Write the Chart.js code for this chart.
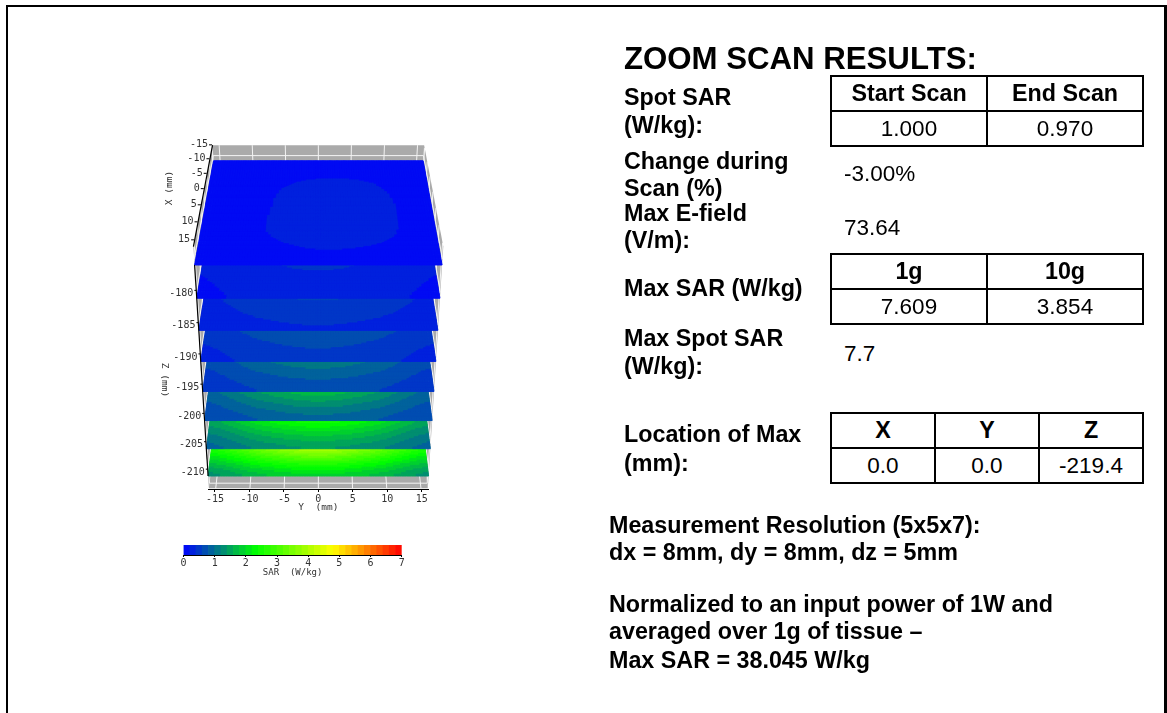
<!DOCTYPE html>
<html><head><meta charset="utf-8">
<script src="https://cdn.jsdelivr.net/npm/chart.js@4"></script>
<style>
html,body{margin:0;padding:0;background:#fff;width:1167px;height:713px;overflow:hidden;font-family:"Liberation Sans",Arial,sans-serif;color:#000}
#frame{position:absolute;left:6px;top:5px;width:1156px;height:708px;border:solid #000;border-width:2px 3px 0 2px;box-sizing:content-box}
canvas{position:absolute}
.t{position:absolute;white-space:nowrap;transform:translateY(-50%);line-height:1;font-size:22.5px;margin-top:1px}
.b{font-weight:bold;font-size:23.3px}
.h{font-weight:bold;font-size:31.2px}
table{position:absolute;border-collapse:collapse;table-layout:fixed;font-size:22.5px}
td{border:2.5px solid #000;padding:0;text-align:center;height:33px;box-sizing:content-box}
tr.hd td{font-weight:bold;font-size:23.3px}
</style></head><body>
<div id="frame"></div>
<canvas id="plot" width="640" height="713" style="left:0;top:0"></canvas>
<canvas id="bar" width="300" height="60" style="left:150px;top:530px"></canvas>
<div id="text"></div>
<script>
// ---------- data ----------
const scanY = [-16,-8,0,8,16];           // columns of each SAR grid (mm)
const scanX = [-16,-8,0,8,16];           // rows of each SAR grid (mm)
const scanZ = [-210,-205,-200,-195,-190,-185,-180,-175]; // planes
const sarZ175 = [[.07,.10,.13,.12,.08],[.10,.17,.215,.20,.12],[.12,.185,.27,.24,.13],[.12,.185,.26,.23,.12],[.07,.10,.14,.12,.07]];
const sarZ180 = [[.16,.24,.27,.24,.16],[.22,.36,.42,.36,.22],[.30,.48,.58,.48,.30],[.22,.36,.42,.36,.22],[.16,.24,.27,.24,.16]];
const sarZ185 = [[.24,.34,.38,.34,.24],[.36,.55,.62,.55,.36],[.50,.75,.90,.75,.50],[.36,.55,.62,.55,.36],[.24,.34,.38,.34,.24]];
const sarZ190 = [[.33,.45,.50,.45,.33],[.50,.72,.85,.72,.50],[.70,1.05,1.25,1.05,.70],[.50,.72,.85,.72,.50],[.33,.45,.50,.45,.33]];
const sarZ195 = [[.45,.60,.65,.60,.45],[.70,1.05,1.25,1.05,.70],[1.0,1.55,1.85,1.55,1.0],[.70,1.05,1.25,1.05,.70],[.45,.60,.65,.60,.45]];
const sarZ200 = [[.60,.80,.90,.80,.60],[1.05,1.65,2.0,1.65,1.05],[1.5,2.4,2.9,2.4,1.5],[1.05,1.65,2.0,1.65,1.05],[.60,.80,.90,.80,.60]];
const sarZ205 = [[.90,1.25,1.40,1.25,.90],[1.8,2.6,3.0,2.6,1.8],[2.5,3.7,4.4,3.7,2.5],[1.8,2.6,3.0,2.6,1.8],[.90,1.25,1.40,1.25,.90]];
const sarZ210 = [[1.3,1.75,1.95,1.75,1.3],[3.2,4.3,5.0,4.3,3.2],[4.0,5.6,6.5,5.6,4.0],[3.2,4.3,5.0,4.3,3.2],[1.3,1.75,1.95,1.75,1.3]];
const sarGrids = [sarZ210,sarZ205,sarZ200,sarZ195,sarZ190,sarZ185,sarZ180,sarZ175];
const tickYmm = [-15,-10,-5,0,5,10,15];
const tickXmm = [-15,-10,-5,0,5,10,15];
const tickZmm = [-180,-185,-190,-195,-200,-205,-210];
const gridZmm = [-175,-180,-185,-190,-195,-200,-205,-210];
const barLevels = [0.1,0.3,0.5,0.7,0.9,1.1,1.3,1.5,1.7,1.9,2.1,2.3,2.5,2.7,2.9,3.1,3.3,3.5,3.7,3.9,4.1,4.3,4.5,4.7,4.9,5.1,5.3,5.5,5.7,5.9,6.1,6.3,6.5,6.7,6.9];
const barTicks = [0,1,2,3,4,5,6,7];
const colorStops = [[0,[0,0,255]],[2.33,[0,255,0]],[4.8,[255,255,0]],[7,[255,0,0]]];

const spotHead = ['Start Scan','End Scan'], spotVals = ['1.000','0.970'];
const massHead = ['1g','10g'], massVals = ['7.609','3.854'];
const locHead = ['X','Y','Z'], locVals = ['0.0','0.0','-219.4'];

// ---------- text panel ----------
const panel = document.getElementById('text');
function put(cls,x,y,s){const d=document.createElement('div');d.className='t '+cls;d.style.left=x+'px';d.style.top=y+'px';d.textContent=s;panel.appendChild(d);}
function tbl(x,y,widths,head,vals){
  const t=document.createElement('table');t.style.left=x+'px';t.style.top=y+'px';
  t.style.width=widths.reduce((a,b)=>a+b,0)+'px';
  const cg=document.createElement('colgroup');widths.forEach(w=>{const c=document.createElement('col');c.style.width=w+'px';cg.appendChild(c);});t.appendChild(cg);
  [head,vals].forEach((r,i)=>{const tr=document.createElement('tr');if(!i)tr.className='hd';r.forEach(s=>{const td=document.createElement('td');td.textContent=s;tr.appendChild(td);});t.appendChild(tr);});
  panel.appendChild(t);
}
put('h',624,58,'ZOOM SCAN RESULTS:');
[[97,'Spot SAR'],[125,'(W/kg):'],[161,'Change during'],[188,'Scan (%)'],[213,'Max E-field'],[240,'(V/m):'],[288,'Max SAR (W/kg)'],[338,'Max Spot SAR'],[366,'(W/kg):'],[434,'Location of Max'],[463,'(mm):']].forEach(a=>put('b',624,a[0],a[1]));
[[173,'-3.00%'],[227,'73.64'],[353,'7.7']].forEach(a=>put('',844,a[0],a[1]));
[[525,'Measurement Resolution (5x5x7):'],[552,'dx = 8mm, dy = 8mm, dz = 5mm'],[604,'Normalized to an input power of 1W and'],[631,'averaged over 1g of tissue \u2013'],[660,'Max SAR = 38.045 W/kg']].forEach(a=>put('b',609,a[0],a[1]));
tbl(830,75,[156,156],spotHead,spotVals);
tbl(830,253,[156,156],massHead,massVals);
tbl(830,412,[104,104,104],locHead,locVals);

// ---------- colour + interpolation ----------
function mapColor(v){
  for(let i=1;i<colorStops.length;i++){
    if(v<=colorStops[i][0]){
      const a=colorStops[i-1],b=colorStops[i],f=(v-a[0])/(b[0]-a[0]);
      return 'rgb('+a[1].map((c,k)=>Math.round(c+(b[1][k]-c)*f)).join(',')+')';
    }
  }
  return 'rgb(255,0,0)';
}
function cr(p0,p1,p2,p3,t){return .5*((2*p1)+(-p0+p2)*t+(2*p0-5*p1+4*p2-p3)*t*t+(-p0+3*p1-3*p2+p3)*t*t*t);}
function sample(g,X,Y){
  const fx=(X+16)/8,fy=(Y+16)/8;
  const ix=Math.min(3,Math.floor(fx)),iy=Math.min(3,Math.floor(fy));
  const tx=fx-ix,ty=fy-iy,c=i=>Math.max(0,Math.min(4,i));
  const col=[];
  for(let j=-1;j<=2;j++){
    const r=g[c(ix+j)];
    col.push(cr(r[c(iy-1)],r[c(iy)],r[c(iy+1)],r[c(iy+2)],ty));
  }
  return cr(col[0],col[1],col[2],col[3],tx);
}
function levelOf(v){return Math.floor(Math.max(0,v)/0.2)*0.2+0.1;}

// ---------- perspective through the chart scales ----------
const D=321,E=177,horizonZ=-44;
function projector(chart){
  const xs=chart.scales.x,ys=chart.scales.y,cx=xs.getPixelForValue(0),yh=ys.getPixelForValue(horizonZ);
  return (Y,X,z)=>{
    const t=z+210,s=D/(D-t),p=E/(E+16-X);
    return [cx+(xs.getPixelForValue(Y*s)-cx)*p, yh+(ys.getPixelForValue(-210+t*s)-yh)*p];
  };
}
const Ztop=-172.3,Zbot=-212.3,ZS=0.9;
function poly(ctx,pts,fill){ctx.beginPath();pts.forEach((p,i)=>i?ctx.lineTo(p[0],p[1]):ctx.moveTo(p[0],p[1]));ctx.closePath();ctx.fillStyle=fill;ctx.fill();}
function seg(ctx,a,b,col,w){ctx.beginPath();ctx.moveTo(a[0],a[1]);ctx.lineTo(b[0],b[1]);ctx.strokeStyle=col;ctx.lineWidth=w;ctx.stroke();}

const scene={id:'scene',afterDatasetsDraw(chart){
  const ctx=chart.ctx,P=projector(chart),G='#aaaaaa',W='#f4f4f4';
  ctx.save();
  // back wall, side walls, floor
  poly(ctx,[P(-16,-16,Ztop),P(16,-16,Ztop),P(16,-16,Zbot),P(-16,-16,Zbot)],G);
  poly(ctx,[P(-16,-16,Ztop),P(-16,16,Ztop),P(-16,16,Zbot),P(-16,-16,Zbot)],G);
  poly(ctx,[P(16,-16,Ztop),P(16,16,Ztop),P(16,16,Zbot),P(16,-16,Zbot)],G);
  poly(ctx,[P(-16,-16,Zbot),P(16,-16,Zbot),P(16,16,Zbot),P(-16,16,Zbot)],G);
  tickYmm.forEach(v=>{
    seg(ctx,P(v,-16,Ztop),P(v,-16,Zbot),W,1);
    seg(ctx,P(v,-16,Zbot),P(v,16,Zbot),W,1);
  });
  tickXmm.forEach(v=>{
    seg(ctx,P(-16,v,Zbot),P(16,v,Zbot),W,1);
    seg(ctx,P(-16,v,Ztop),P(-16,v,Zbot),W,1);
    seg(ctx,P(16,v,Ztop),P(16,v,Zbot),W,1);
  });
  gridZmm.forEach(v=>{
    seg(ctx,P(-16,-16,v+ZS),P(16,-16,v+ZS),W,1);
    seg(ctx,P(-16,-16,v+ZS),P(-16,16,v+ZS),W,1);
    seg(ctx,P(16,-16,v+ZS),P(16,16,v+ZS),W,1);
  });
  // SAR planes, lowest first
  const N=90;
  ctx.lineWidth=1;
  chart.data.datasets.forEach(ds=>{
    const z=ds.planeZ,g=ds.grid;
    for(let i=0;i<N;i++){
      const x0=-16+32*i/N,x1=-16+32*(i+1)/N;
      for(let j=0;j<N;j++){
        const y0=-16+32*j/N,y1=-16+32*(j+1)/N;
        const c=mapColor(levelOf(sample(g,(x0+x1)/2,(y0+y1)/2)));
        const a=P(y0,x0,z),b=P(y1,x0,z),d=P(y1,x1,z),e=P(y0,x1,z);
        ctx.beginPath();ctx.moveTo(a[0],a[1]);ctx.lineTo(b[0],b[1]);ctx.lineTo(d[0],d[1]);ctx.lineTo(e[0],e[1]);ctx.closePath();
        ctx.fillStyle=c;ctx.strokeStyle=c;ctx.fill();ctx.stroke();
      }
    }
  });
  // slanted axes
  const K='#000',F='10px "DejaVu Sans Mono"',TC='#333';
  seg(ctx,P(-16,-16,Ztop),P(-16,16,Ztop),K,1.2);
  seg(ctx,P(-16,16,-175),P(-16,16,Zbot+2.3),K,1.2);
  ctx.font=F;ctx.fillStyle=TC;ctx.textAlign='right';ctx.textBaseline='middle';
  tickXmm.forEach(v=>{
    const p=P(-16,v,Ztop);
    seg(ctx,[p[0]-3,p[1]-3],[p[0],p[1]-3],K,1);
    ctx.fillStyle=TC;ctx.fillText(String(v),p[0]-4,p[1]-3);
  });
  tickZmm.forEach(v=>{
    const p=P(-16,16,v+ZS);
    seg(ctx,[p[0]-2,p[1]-2],[p[0],p[1]-2],K,1);
    ctx.fillStyle=TC;ctx.fillText(String(v),p[0]-3,p[1]+1);
  });
  // rotated axis titles
  ctx.textAlign='center';
  ctx.save();ctx.translate(164,380);ctx.rotate(Math.PI/2);ctx.font='9.5px "DejaVu Sans Mono"';ctx.fillText('Z (mm)',0,0);ctx.restore();
  ctx.save();ctx.translate(170,188);ctx.rotate(-Math.PI/2);ctx.font='9.5px "DejaVu Sans Mono"';ctx.fillText('X (mm)',0,0);ctx.restore();
  ctx.restore();
}};

new Chart(document.getElementById('plot'),{
  type:'scatter',
  data:{datasets:scanZ.map((z,k)=>({
    label:'Z '+z+' mm',planeZ:z,grid:sarGrids[k],showLine:false,pointRadius:0,
    data:scanX.flatMap((X,r)=>scanY.map((Y,c)=>({x:Y,y:z,sar:sarGrids[k][r][c],X})))
  }))},
  options:{
    responsive:false,animation:false,devicePixelRatio:1,
    layout:{padding:{left:208.1,right:211.4,top:100,bottom:198}},
    plugins:{legend:{display:false},tooltip:{enabled:false}},
    scales:{
      x:{type:'linear',min:-16,max:16,
        afterFit(s){s.height=26;},
        afterBuildTicks(s){s.ticks=tickYmm.map(v=>({value:v}));},
        border:{color:'#000',width:1},
        grid:{drawOnChartArea:false,color:'#000',tickLength:3},
        ticks:{color:'#333',font:{family:'"DejaVu Sans Mono"',size:10},padding:1,maxRotation:0,autoSkip:false},
        title:{display:true,text:'Y  (mm)',color:'#333',font:{family:'"DejaVu Sans Mono"',size:9.5},padding:{top:0,bottom:2}}},
      y:{type:'linear',display:false,min:-212.42,max:-140}
    }
  },
  plugins:[scene]
});

new Chart(document.getElementById('bar'),{
  type:'bar',
  data:{datasets:[{label:'SAR (W/kg)',
    data:barLevels.map(v=>({x:v,y:1})),
    backgroundColor:barLevels.map(mapColor),
    barPercentage:1,categoryPercentage:1,borderWidth:0}]},
  options:{
    responsive:false,animation:false,devicePixelRatio:1,
    layout:{padding:{left:33.5,right:48.3,top:15,bottom:12}},
    plugins:{legend:{display:false},tooltip:{enabled:false}},
    scales:{
      x:{type:'linear',min:0,max:7,offset:false,
        afterFit(s){s.height=23;},
        afterBuildTicks(s){s.ticks=barTicks.map(v=>({value:v}));},
        border:{color:'#000',width:1},
        grid:{offset:false,drawOnChartArea:false,color:'#000',tickLength:2},
        ticks:{color:'#333',font:{family:'"DejaVu Sans Mono"',size:10},padding:0,maxRotation:0,autoSkip:false},
        title:{display:true,text:'SAR  (W/kg)',color:'#333',font:{family:'"DejaVu Sans Mono"',size:9},padding:{top:0,bottom:0}}},
      y:{display:false,min:0,max:1}
    }
  }
});
</script>
</body></html>
